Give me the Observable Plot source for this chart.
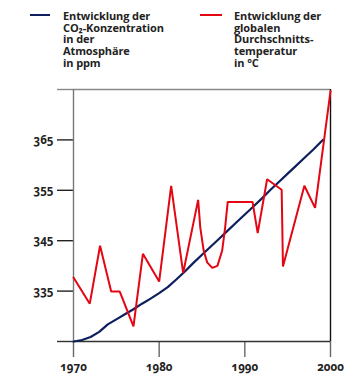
<!DOCTYPE html>
<html><head><meta charset="utf-8">
<script src="https://cdn.jsdelivr.net/npm/d3@7"></script>
<script src="https://cdn.jsdelivr.net/npm/@observablehq/plot@0.6"></script>
<style>
body{margin:0;background:#fff;font-family:"Open Sans",sans-serif;}
#wrap{width:354px;height:381px;position:relative;overflow:hidden;}
#legend{position:relative;height:80px;width:354px;}
.item{position:absolute;top:10px;font-weight:bold;font-size:11px;line-height:11.7px;color:#222;letter-spacing:-0.1px;}
.sw{position:absolute;height:2px;top:14px;}
svg text{font-variant-numeric:oldstyle-nums;}
</style></head>
<body><div id="wrap">
<div id="legend">
  <div class="sw" style="left:30px;width:20px;background:#0d1f5c"></div>
  <div class="item" style="left:63px">Entwicklung der<br>CO₂-Konzentration<br>in der<br>Atmosphäre<br>in ppm</div>
  <div class="sw" style="left:200px;width:22px;background:#e30613"></div>
  <div class="item" style="left:234px">Entwicklung der<br>globalen<br>Durchschnitts-<br>temperatur<br>in °C</div>
</div>
<div id="chart"></div>
</div>
<script>
const co2Years = [1970,1971,1972,1973,1974,1975,1976,1977,1978,1979,1980,1981,1982,1983,1984,1985,1986,1987,1988,1989,1990,1991,1992,1993,1994,1995,1996,1997,1998,1999.1];
const co2Values = [325.0,325.3,325.9,326.9,328.4,329.4,330.4,331.4,332.5,333.5,334.6,335.8,337.3,338.9,340.6,342.2,343.8,345.4,347.0,348.6,350.2,351.8,353.4,355.1,356.7,358.3,359.9,361.5,363.1,365.0];
const tempYears = [1970,1971.9,1973.1,1974.4,1975.4,1977.0,1978.1,1980.0,1981.4,1982.8,1984.55,1984.8,1985.2,1985.6,1986.2,1986.8,1987.35,1987.7,1988.0,1990.9,1991.5,1992.6,1994.3,1994.45,1996.95,1998.2,2000];
const tempValues = [337.7,332.5,344.0,334.9,334.9,328.0,342.4,336.9,355.9,338.6,353.1,347.6,343.0,340.7,339.6,340.0,343.0,347.6,352.7,352.7,346.5,357.2,355.1,339.9,355.9,351.5,374.7];
const xTicks = [1970,1980,1990,2000];
const yTicks = [335,345,355,365];
const yDomain = [325,375];
const xDomain = [1970,2000];

const co2 = co2Years.map((y,i)=>({year:y, value:co2Values[i]}));
const temp = tempYears.map((y,i)=>({year:y, value:tempValues[i]}));

const chart = Plot.plot({
  width:354, height:301,
  marginTop:9, marginBottom:40, marginLeft:73, marginRight:24,
  x:{domain:xDomain, label:null},
  y:{domain:yDomain, label:null},
  style:{fontFamily:"Open Sans", fontSize:"11.5px", fontWeight:"bold", color:"#222", background:"#fff"},
  marks:[
    Plot.axisY({ticks:[yDomain[1]], tickSize:16, tickFormat:()=>"", label:null, stroke:"#888", strokeWidth:1.4}),
    Plot.axisY({ticks:[yDomain[0]], tickSize:16, tickFormat:()=>"", label:null, stroke:"#333", strokeWidth:1.4}),
    Plot.axisY({ticks:yTicks, tickSize:16, tickPadding:4, tickFormat:d=>String(d), label:null, stroke:"#222", strokeWidth:1.4, fill:"#222"}),
    Plot.axisX({ticks:xTicks, tickSize:16, tickPadding:5, tickFormat:d=>String(d), label:null, stroke:"#666", strokeWidth:1.4, fill:"#222"}),
    Plot.ruleY([yDomain[1]], {stroke:"#888", strokeWidth:1.4}),
    Plot.ruleY([yDomain[0]], {stroke:"#333", strokeWidth:1.4}),
    Plot.ruleX([xDomain[0]], {stroke:"#777", strokeWidth:1.4}),
    Plot.ruleX([xDomain[1]], {stroke:"#111", strokeWidth:1.4}),
    Plot.line(co2, {x:"year", y:"value", stroke:"#0d1f5c", strokeWidth:2.2}),
    Plot.line(temp, {x:"year", y:"value", stroke:"#e30613", strokeWidth:2, strokeLinejoin:"miter"})
  ]
});
document.getElementById("chart").append(chart);
</script>
</body></html>
